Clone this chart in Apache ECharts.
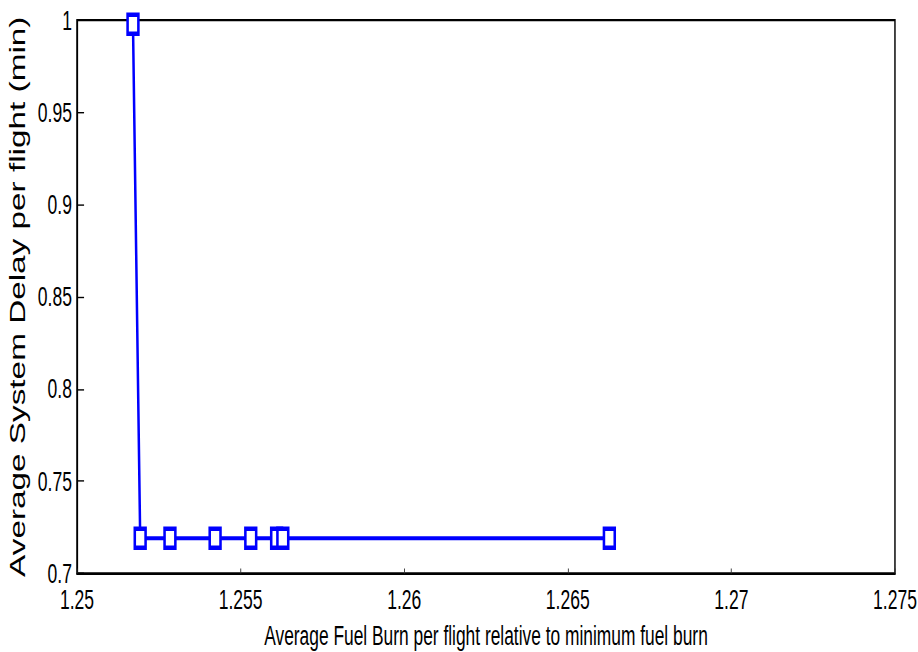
<!DOCTYPE html>
<html>
<head>
<meta charset="utf-8">
<style>
  html, body { margin: 0; padding: 0; background: #fff; width: 918px; height: 652px; overflow: hidden; }
  /* the reference figure is stretched (tall, slightly narrow), so the chart is drawn at another aspect and scaled */
  #chart { width: 1020px; height: 466px; transform: scale(0.9, 1.4); transform-origin: 0 0; }
</style>
<script src="https://cdn.jsdelivr.net/npm/echarts@6/dist/echarts.min.js"></script>
</head>
<body>
<div id="chart"></div>
<script>
  var fuelBurn = [1.25171, 1.25193, 1.25284, 1.25422, 1.25531, 1.25610, 1.25629, 1.26627];
  var delay = [0.9977, 0.7191, 0.7191, 0.7191, 0.7191, 0.7191, 0.7191, 0.7191];
  var xTicks = [1.25, 1.275, 0.005];
  var yTicks = [0.7, 1, 0.05];

  (function () {
    "use strict";
    var points = fuelBurn.map(function (x, i) { return [x, delay[i]]; });
    var font = "'Liberation Sans', Arial, sans-serif";
    var blue = "#0000ff";

    var chart = echarts.init(document.getElementById("chart"), null, { renderer: "svg" });
    chart.setOption({
      animation: false,
      backgroundColor: "#fff",
      grid: {
        left: 85.6, right: 25.6, top: 14.3, bottom: 56.4, outerBoundsMode: "none", containLabel: false,
        show: true, borderColor: "#000", borderWidth: 1.6, backgroundColor: "transparent"
      },
      xAxis: {
        type: "value", min: xTicks[0], max: xTicks[1], interval: xTicks[2],
        name: "Average Fuel Burn per flight relative to minimum fuel burn",
        nameLocation: "middle", nameGap: 35,
        nameTextStyle: { fontFamily: font, fontSize: 19.3, color: "#000" },
        axisLine: { show: true, onZero: false, lineStyle: { color: "#000", width: 1.6 } },
        axisTick: { show: true, inside: true, length: 3.6, lineStyle: { color: "#333" } },
        axisLabel: { fontFamily: font, fontSize: 19.5, color: "#000", margin: 8.5 },
        splitLine: { show: false }
      },
      yAxis: {
        type: "value", min: yTicks[0], max: yTicks[1], interval: yTicks[2],
        name: "Average System Delay per flight (min)",
        nameLocation: "middle", nameGap: 36,
        nameTextStyle: { fontFamily: font, fontSize: 23.8, color: "#000" },
        axisLine: { show: true, onZero: false, lineStyle: { color: "#000", width: 1.6 } },
        axisTick: { show: true, inside: true, length: 7.8, lineStyle: { color: "#000" } },
        axisLabel: { fontFamily: font, fontSize: 19.5, color: "#000", margin: 5.6 },
        splitLine: { show: false }
      },
      series: [{
        type: "line", data: points,
        symbol: "rect", symbolSize: [12, 13.5], showAllSymbol: true,
        lineStyle: { color: blue, width: 2.8 },
        itemStyle: { color: "#fff", borderColor: blue, borderWidth: 3 }
      }]
    });
  })();
</script>
</body>
</html>
